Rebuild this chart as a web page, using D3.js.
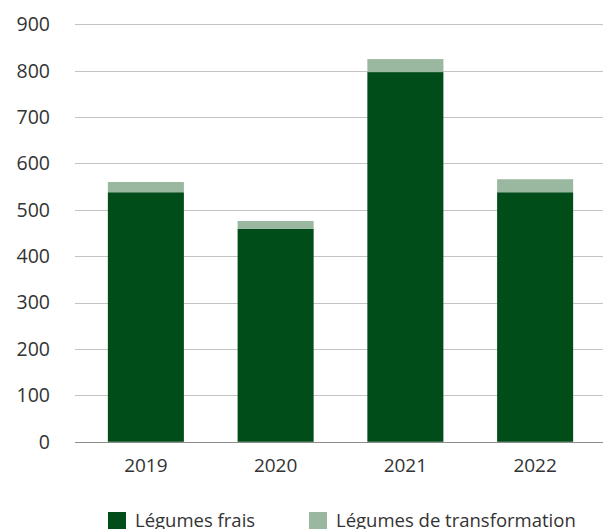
<!DOCTYPE html>
<html>
<head>
<meta charset="utf-8">
<script src="https://cdn.jsdelivr.net/npm/d3@7"></script>
<style>
  body { margin: 0; background: #fff; }
  svg text { font-family: "Open Sans", "Noto Sans", sans-serif; fill: #333; }
</style>
</head>
<body>
<svg id="chart" width="603" height="529"></svg>
<script>
const years = ["2019", "2020", "2021", "2022"]
const frais = [538, 459, 797, 538]
const transformation = [22, 17, 28, 28]
const seriesNames = ["Légumes frais", "Légumes de transformation"]
const colors = ["#004d1a", "#9ab8a0"]

const svg = d3.select("#chart")

const y = d3.scaleLinear()
  .domain([0, 900])
  .range([441.8, 24.3])

const x = d3.scaleBand()
  .domain(years)
  .range([81, 600])
  .paddingInner(0.414)
  .paddingOuter(0.207)

// gridlines
svg.append("g")
  .selectAll("line")
  .data(y.ticks(9))
  .join("line")
  .attr("x1", 75)
  .attr("x2", 603)
  .attr("y1", (d) => Math.round(y(d)) + 0.5)
  .attr("y2", (d) => Math.round(y(d)) + 0.5)
  .style("stroke", (d) => d === 0 ? "#8c8c8c" : "#c4c4c4")
  .style("stroke-width", 1.2)

// y labels
svg.append("g")
  .selectAll("text")
  .data(y.ticks(9))
  .join("text")
  .attr("x", 50)
  .attr("y", (d) => y(d))
  .attr("dy", "0.35em")
  .attr("text-anchor", "end")
  .style("font-size", "19.5px")
  .text((d) => d)

// stacked bars
const rows = years.map((yr, i) => ({ year: yr, frais: frais[i], transformation: transformation[i] }))
const stack = d3.stack().keys(["frais", "transformation"])(rows)

svg.append("g")
  .selectAll("g")
  .data(stack)
  .join("g")
  .style("fill", (d, i) => colors[i])
  .selectAll("rect")
  .data((d) => d)
  .join("rect")
  .attr("x", (d) => x(d.data.year))
  .attr("width", x.bandwidth())
  .attr("y", (d) => y(d[1]))
  .attr("height", (d) => y(d[0]) - y(d[1]))

// x labels
svg.append("g")
  .selectAll("text")
  .data(years)
  .join("text")
  .attr("x", (d) => x(d) + x.bandwidth() / 2)
  .attr("y", 471.5)
  .attr("text-anchor", "middle")
  .style("font-size", "19px")
  .text((d) => d)

// legend
const legendX = [108, 309]
const legend = svg.append("g")
  .selectAll("g")
  .data(seriesNames)
  .join("g")
  .attr("transform", (d, i) => `translate(${legendX[i]}, 512)`)

legend.append("rect")
  .attr("width", 18)
  .attr("height", 17)
  .style("fill", (d, i) => colors[i])

legend.append("text")
  .attr("x", 27)
  .attr("y", 15)
  .style("font-size", "18.5px")
  .text((d) => d)
</script>
</body>
</html>
